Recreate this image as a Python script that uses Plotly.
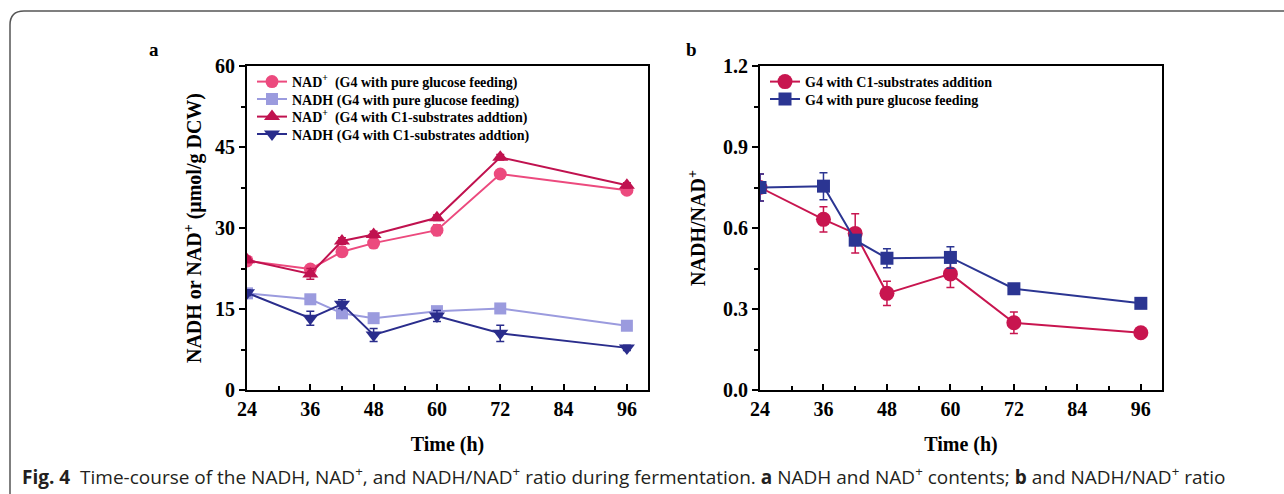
import plotly.graph_objects as go

# ---------------- data ----------------
time_h = [24, 36, 42, 48, 60, 72, 96]

# panel a (µmol/g DCW)
nad_glucose = [23.9, 22.4, 25.6, 27.2, 29.6, 40.0, 37.0]
nad_glucose_err = [0.8, 0.6, 0.9, 0.9, 1.0, 0.6, 0.6]
nadh_glucose = [17.9, 16.8, 14.2, 13.3, 14.6, 15.1, 11.9]
nadh_glucose_err = [0.5, 0.5, 0.8, 0.5, 0.5, 0.5, 0.6]
nad_c1 = [24.1, 21.5, 27.6, 28.8, 31.9, 43.1, 37.9]
nad_c1_err = [0.5, 1.0, 0.6, 0.6, 0.5, 0.5, 0.5]
nadh_c1 = [18.0, 13.3, 15.9, 10.2, 13.7, 10.5, 7.8]
nadh_c1_err = [0.5, 1.3, 0.8, 1.2, 1.0, 1.5, 0.5]

# panel b (NADH/NAD+ ratio)
ratio_c1 = [0.75, 0.632, 0.58, 0.358, 0.43, 0.249, 0.212]
ratio_c1_err = [0.05, 0.047, 0.073, 0.045, 0.05, 0.04, 0.01]
ratio_glucose = [0.75, 0.755, 0.555, 0.488, 0.491, 0.375, 0.321]
ratio_glucose_err = [0.05, 0.05, 0.02, 0.035, 0.04, 0.01, 0.01]

x_ticks = [24, 36, 48, 60, 72, 84, 96]

SERIF = "Liberation Serif"
W, H = 1284, 494

fig = go.Figure()


def add(x, y, err, name, color, symbol, size, xa, ya, legend):
    fig.add_trace(go.Scatter(
        x=x, y=y, name=name, mode="lines+markers",
        line=dict(color=color, width=2),
        marker=dict(color=color, symbol=symbol, size=size),
        error_y=dict(type="data", array=err, color=color, thickness=1.5, width=4),
        xaxis=xa, yaxis=ya, legend=legend,
    ))


add(time_h, nad_glucose, nad_glucose_err, "NAD<sup>+</sup>  (G4 with pure glucose feeding)",
    "#EC4A7E", "circle", 13, "x", "y", "legend")
add(time_h, nadh_glucose, nadh_glucose_err, "NADH (G4 with pure glucose feeding)",
    "#9B9BDE", "square", 12, "x", "y", "legend2")
add(time_h, nad_c1, nad_c1_err, "NAD<sup>+</sup>  (G4 with C1-substrates addtion)",
    "#C0124F", "triangle-up", 14, "x", "y", "legend3")
add(time_h, nadh_c1, nadh_c1_err, "NADH (G4 with C1-substrates addtion)",
    "#2A2D8C", "triangle-down", 14, "x", "y", "legend4")

add(time_h, ratio_c1, ratio_c1_err, "G4 with C1-substrates addition",
    "#C8154F", "circle", 15, "x2", "y2", "legend5")
add(time_h, ratio_glucose, ratio_glucose_err, "G4 with pure glucose feeding",
    "#2B3592", "square", 13, "x2", "y2", "legend6")

tickfont = dict(family=SERIF, size=20, color="black", weight="bold")
titlefont = dict(family=SERIF, size=20, color="black", weight="bold")

xcommon = dict(
    range=[24, 100], tickvals=x_ticks, showline=True, mirror=True, automargin=False,
    linecolor="black", linewidth=2, ticks="inside", ticklen=6, tickwidth=2,
    tickcolor="black", tickfont=tickfont, showgrid=False, zeroline=False,
    minor=dict(ticks="inside", ticklen=4, tickwidth=2, dtick=6, tick0=24, tickcolor="black"),
    title=dict(text="Time (h)", font=titlefont, standoff=18),
)
xa1 = dict(xcommon, domain=[247 / W, 648 / W], anchor="y")
xa2 = dict(xcommon, domain=[760 / W, 1162 / W], anchor="y2")

ydom = [1 - 390 / H, 1 - 66 / H]
ycommon = dict(
    showline=True, mirror=True, linecolor="black", linewidth=2, automargin=False,
    ticks="outside", ticklen=6, tickwidth=2, tickcolor="black",
    tickfont=tickfont, showgrid=False, zeroline=False, domain=ydom,
)
ya1 = dict(ycommon, range=[0, 60], tickvals=[0, 15, 30, 45, 60],
           minor=dict(ticks="outside", ticklen=4, tickwidth=2, dtick=7.5, tick0=0, tickcolor="black"),
           title=dict(text="NADH or NAD<sup>+</sup> (μmol/g DCW)", font=titlefont, standoff=8),
           anchor="x")
ya2 = dict(ycommon, range=[0, 1.2], tickvals=[0, 0.3, 0.6, 0.9, 1.2],
           ticktext=["0.0", "0.3", "0.6", "0.9", "1.2"],
           minor=dict(ticks="outside", ticklen=4, tickwidth=2, dtick=0.15, tick0=0, tickcolor="black"),
           title=dict(text="NADH/NAD<sup>+</sup>", font=titlefont, standoff=12),
           anchor="x2")

legfont = dict(family=SERIF, size=14, color="black", weight="bold")


def leg(xpx, ypx):
    return dict(x=xpx / W, y=1 - ypx / H, xanchor="left", yanchor="middle",
                bgcolor="rgba(0,0,0,0)", font=legfont, tracegroupgap=0,
                itemwidth=30)


fig.update_layout(
    width=W, height=H, margin=dict(l=0, r=0, t=0, b=0, autoexpand=False),
    paper_bgcolor="white", plot_bgcolor="white",
    xaxis=xa1, yaxis=ya1, xaxis2=xa2, yaxis2=ya2,
    legend=leg(252, 82), legend2=leg(252, 99.5), legend3=leg(252, 117), legend4=leg(252, 134.5),
    legend5=leg(765, 82), legend6=leg(765, 99.5),
    showlegend=True,
)

# panel letters
fig.add_annotation(x=147 / W, y=1 - 37 / H, xref="paper", yref="paper", text="a",
                   showarrow=False, font=dict(family=SERIF, size=19, color="black", weight="bold"))
fig.add_annotation(x=691 / W, y=1 - 37 / H, xref="paper", yref="paper", text="b",
                   showarrow=False, font=dict(family=SERIF, size=19, color="black", weight="bold"))

# caption
caption = ("<b>Fig. 4</b>  Time-course of the NADH, NAD<sup>+</sup>, and NADH/NAD<sup>+</sup> ratio during "
           "fermentation. <b>a</b> NADH and NAD<sup>+</sup> contents; <b>b</b> and NADH/NAD<sup>+</sup> ratio")
fig.add_annotation(x=20 / W, y=1 - 476 / H, xref="paper", yref="paper", text=caption,
                   xanchor="left", yanchor="middle", showarrow=False,
                   font=dict(family="Open Sans, sans-serif", size=19, color="#231F20"))

# rounded frame
fig.add_shape(type="path", xref="paper", yref="paper",
              path=f"M 1,{1 - 11 / H} L {24 / W},{1 - 11 / H} Q {10 / W},{1 - 11 / H} {10 / W},{1 - 25 / H} L {10 / W},0",
              line=dict(color="#555555", width=1.5))

fig.write_html("out.html", config={"displayModeBar": False},
               post_script="document.body.style.margin='0';")
